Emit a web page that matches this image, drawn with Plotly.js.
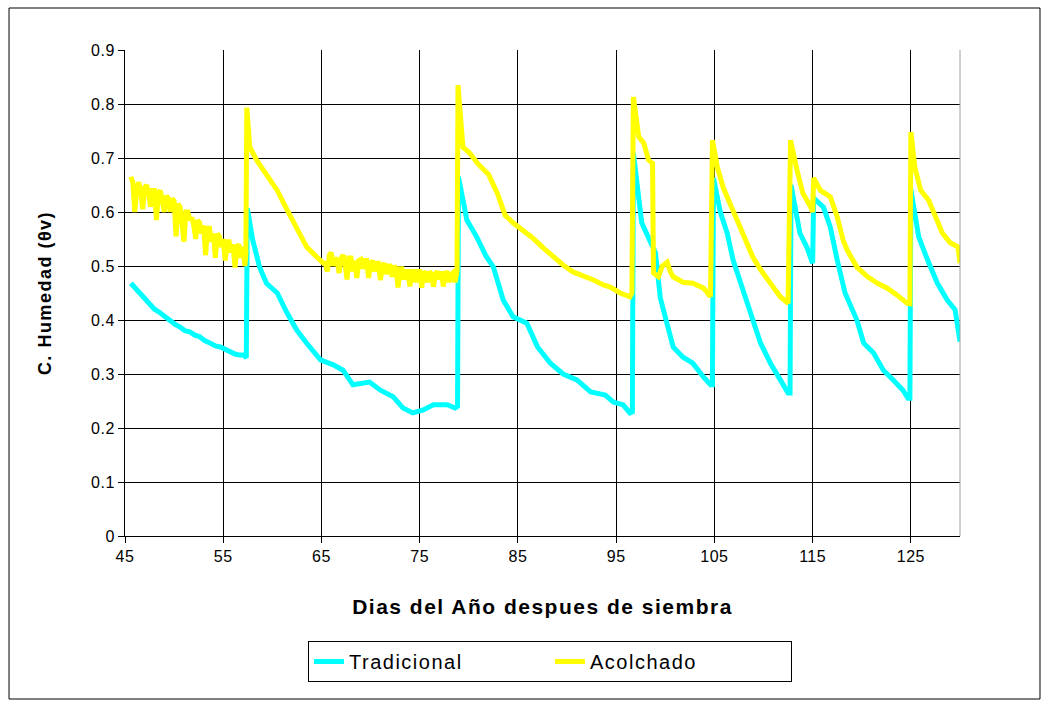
<!DOCTYPE html>
<html>
<head>
<meta charset="utf-8">
<script src="https://cdn.plot.ly/plotly-3.0.1.min.js"></script>
<style>
html, body { margin: 0; padding: 0; background: #fff; }
#chart { width: 1049px; height: 706px; }
.xtitle, .ytitle { letter-spacing: 1.5px; }
.legendtext { letter-spacing: 1.5px; }
.xtick text, .ytick text { letter-spacing: 0.5px; }
</style>
</head>
<body>
<div id="chart"></div>
<script>
// Tradicional (cyan)
const tradDays = [45.6,46.0,46.5,47.0,47.5,48.0,48.6,49.1,49.6,50.1,50.6,51.1,51.6,52.1,52.6,53.1,53.7,54.2,54.7,55.2,55.7,56.2,56.7,57.1,57.35,
  57.45,58.0,58.7,59.4,60.5,61.5,62.5,63.5,64.9,66.2,67.2,68.2,69.4,69.9,71.0,72.3,73.3,74.3,75.3,76.4,77.8,78.6,78.85,
  78.95,79.8,80.8,81.7,82.5,83.5,84.5,85.9,87.0,88.3,89.6,91.0,92.4,93.9,94.7,95.7,96.4,96.65,
  96.75,97.6,98.3,99.0,99.5,100.2,100.8,101.8,102.8,103.9,104.6,104.8,
  104.9,105.6,106.3,106.9,107.6,108.3,108.9,109.7,110.7,111.7,112.5,112.7,
  112.8,113.7,114.4,115.0,115.1,116.1,116.8,117.5,118.3,119.5,120.2,121.2,122.2,123.2,124.2,124.7,124.9,
  125.0,125.8,126.7,127.7,128.7,129.5,130.0];
const tradVals = [0.468,0.46,0.45,0.44,0.431,0.42,0.413,0.405,0.40,0.392,0.387,0.38,0.378,0.372,0.369,0.362,0.357,0.352,0.35,0.345,0.341,0.337,0.335,0.335,0.33,
  0.607,0.548,0.498,0.468,0.45,0.413,0.381,0.357,0.326,0.317,0.307,0.28,0.285,0.285,0.27,0.258,0.237,0.228,0.233,0.243,0.243,0.237,0.24,
  0.665,0.585,0.554,0.52,0.498,0.437,0.406,0.394,0.35,0.32,0.30,0.289,0.267,0.261,0.248,0.243,0.228,0.23,
  0.709,0.58,0.55,0.524,0.44,0.394,0.35,0.331,0.32,0.294,0.28,0.28,
  0.663,0.60,0.561,0.511,0.474,0.437,0.40,0.357,0.32,0.289,0.265,0.265,
  0.65,0.561,0.535,0.505,0.626,0.609,0.572,0.511,0.45,0.40,0.357,0.339,0.307,0.289,0.27,0.255,0.255,
  0.641,0.554,0.511,0.468,0.437,0.419,0.36];

// Acolchado (yellow)
const acolDays = [45.6,45.8,46.0,46.2,46.4,46.6,46.8,47.0,47.2,47.4,47.6,47.8,48.0,48.2,48.4,48.6,48.8,49.0,49.2,49.4,49.6,49.8,50.0,50.2,50.4,50.6,50.8,51.0,51.2,51.4,51.6,51.8,52.0,52.2,52.4,52.6,52.8,53.0,53.2,53.4,53.6,53.8,54.0,54.2,54.4,54.6,54.8,55.0,55.2,55.4,55.6,55.8,56.0,56.2,56.4,56.6,56.8,57.0,57.2,57.3,
  57.4,57.7,58.4,59.5,60.5,61.5,62.5,63.5,64.5,65.2,
  65.4,65.6,65.8,66.0,66.2,66.4,66.6,66.8,67.0,67.2,67.4,67.6,67.8,68.0,68.2,68.4,68.6,68.8,69.0,69.2,69.4,69.6,69.8,70.0,70.2,70.4,70.6,70.8,71.0,71.2,71.4,71.6,71.8,72.0,72.2,72.4,72.6,72.8,73.0,73.2,73.4,73.6,73.8,74.0,74.2,74.4,74.6,74.8,75.0,75.2,75.4,75.6,75.8,76.0,76.2,76.4,76.6,76.8,77.0,77.2,77.4,77.6,77.8,78.0,78.2,78.4,78.6,78.8,
  78.9,79.4,80.1,80.9,81.7,82.0,82.9,83.7,84.5,85.5,86.5,87.6,88.6,89.6,90.6,91.6,92.7,93.7,94.4,95.4,96.4,96.6,96.65,
  96.75,97.3,97.8,98.3,98.7,98.8,99.3,99.7,100.2,100.5,100.8,101.8,102.8,103.9,104.6,
  104.8,105.3,105.9,106.3,106.9,107.6,108.3,108.9,109.7,110.7,111.7,112.5,
  112.75,113.4,114.0,114.8,115.0,115.1,115.8,116.8,117.5,118.1,118.5,119.5,120.6,121.6,122.6,123.6,124.6,124.9,
  125.0,125.4,126.0,126.8,127.5,128.2,129.0,129.8,130.0];
const acolVals = [0.665,0.655,0.60,0.645,0.655,0.64,0.605,0.645,0.65,0.635,0.61,0.64,0.64,0.585,0.635,0.64,0.62,0.60,0.63,0.625,0.60,0.625,0.62,0.555,0.615,0.61,0.58,0.545,0.60,0.60,0.585,0.59,0.575,0.55,0.585,0.58,0.56,0.575,0.52,0.57,0.57,0.545,0.56,0.515,0.56,0.555,0.535,0.55,0.51,0.545,0.545,0.525,0.54,0.497,0.535,0.54,0.515,0.535,0.50,0.52,
  0.793,0.72,0.696,0.665,0.64,0.604,0.567,0.535,0.517,0.505,
  0.505,0.49,0.52,0.525,0.50,0.515,0.51,0.487,0.515,0.52,0.505,0.475,0.515,0.515,0.49,0.51,0.478,0.51,0.512,0.495,0.51,0.51,0.478,0.505,0.51,0.49,0.505,0.505,0.474,0.50,0.505,0.485,0.50,0.50,0.48,0.50,0.495,0.46,0.495,0.495,0.475,0.49,0.49,0.462,0.49,0.49,0.47,0.49,0.49,0.46,0.49,0.485,0.47,0.49,0.485,0.462,0.485,0.49,0.475,0.49,0.462,0.485,0.49,0.47,0.485,0.488,0.47,0.49,
  0.835,0.72,0.709,0.69,0.675,0.67,0.635,0.594,0.58,0.567,0.552,0.533,0.517,0.502,0.489,0.483,0.474,0.465,0.461,0.45,0.443,0.45,0.572,
  0.813,0.739,0.728,0.696,0.69,0.487,0.48,0.50,0.507,0.49,0.48,0.47,0.468,0.459,0.443,
  0.733,0.683,0.645,0.628,0.598,0.567,0.543,0.517,0.493,0.468,0.443,0.431,
  0.733,0.678,0.635,0.609,0.60,0.663,0.64,0.628,0.591,0.548,0.53,0.498,0.48,0.468,0.459,0.446,0.431,0.43,
  0.748,0.683,0.64,0.622,0.591,0.561,0.543,0.535,0.505];

const seriesNames = ['Tradicional', 'Acolchado'];
const xTicks = [45, 55, 65, 75, 85, 95, 105, 115, 125];
const yTicks = [0, 0.1, 0.2, 0.3, 0.4, 0.5, 0.6, 0.7, 0.8, 0.9];
const yTickText = ['0', '0.1', '0.2', '0.3', '0.4', '0.5', '0.6', '0.7', '0.8', '0.9'];

const font = 'Arial, "Liberation Sans", sans-serif';

const traces = [
  { x: tradDays, y: tradVals, name: seriesNames[0], mode: 'lines', type: 'scatter',
    line: { color: '#00FFFF', width: 5 } },
  { x: acolDays, y: acolVals, name: seriesNames[1], mode: 'lines', type: 'scatter',
    line: { color: '#FFFF00', width: 5 } }
];

const layout = {
  width: 1049, height: 706,
  margin: { l: 125, r: 89, t: 50, b: 170 },
  paper_bgcolor: '#ffffff', plot_bgcolor: '#ffffff',
  font: { family: font, color: '#000', size: 16 },
  showlegend: true,
  xaxis: {
    range: [45, 130], tickvals: xTicks, ticktext: xTicks.map(String),
    showgrid: true, gridcolor: '#000', gridwidth: 1,
    showline: true, linecolor: '#000', linewidth: 1, zeroline: false,
    ticks: 'outside', ticklen: 6, tickcolor: '#000',
    tickfont: { family: font, size: 16, color: '#000' },
    title: { text: 'Dias del Año despues de siembra', standoff: 35,
      font: { family: font, size: 21, color: '#000', weight: 'bold' } }
  },
  yaxis: {
    range: [0, 0.9], tickvals: yTicks, ticktext: yTickText,
    showgrid: true, gridcolor: '#000', gridwidth: 1,
    showline: true, linecolor: '#000', linewidth: 1, zeroline: false,
    ticks: 'outside', ticklen: 6, tickcolor: '#000',
    tickfont: { family: font, size: 16, color: '#000' },
    title: { text: 'C. Humedad (θv)', standoff: 34,
      font: { family: font, size: 18, color: '#000', weight: 'bold' } }
  },
  legend: {
    orientation: 'h', x: 0.509, xanchor: 'center', y: -0.216, yanchor: 'top',
    bordercolor: '#000', borderwidth: 1, bgcolor: '#fff',
    font: { family: font, size: 20, color: '#000' },
    entrywidth: 196, traceorder: 'normal'
  },
  shapes: [
    { type: 'line', xref: 'paper', yref: 'paper', x0: 1, x1: 1, y0: 0, y1: 1,
      line: { color: '#a0a0a0', width: 1 } },
    { type: 'rect', xref: 'paper', yref: 'paper', x0: -0.1389, x1: 1.0958, y0: -0.3354, y1: 1.0864,
      line: { color: '#000', width: 1 }, fillcolor: 'rgba(0,0,0,0)', layer: 'below' }
  ]
};

Plotly.newPlot('chart', traces, layout, { displayModeBar: false, staticPlot: true });
</script>
</body>
</html>
